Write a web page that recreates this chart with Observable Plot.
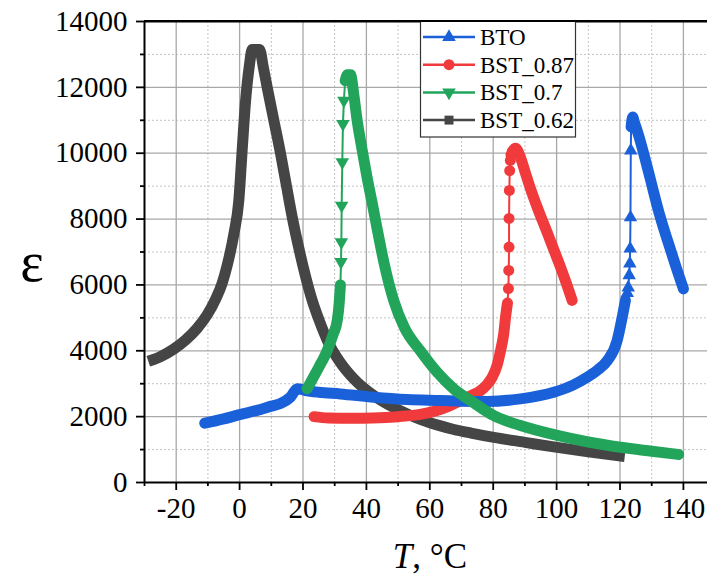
<!DOCTYPE html>
<html><head><meta charset="utf-8">
<script src="https://cdn.jsdelivr.net/npm/d3@7"></script>
<script src="https://cdn.jsdelivr.net/npm/@observablehq/plot@0.6"></script>
<style>body{margin:0;background:#fff}#chart{width:707px;height:576px;position:relative}</style>
</head><body><div id="chart"></div>
<script>
// ---------- data ----------
const seriesNames = ["BTO", "BST_0.87", "BST_0.7", "BST_0.62"];
const seriesColors = ["#1a61d9", "#f03a3b", "#22a55b", "#454545"];

// BTO
const btoLowT = [-11, -5, 0, 5.5, 10, 12.9, 16, 18.2, 20.5, 25, 31.8, 42.3, 52.9, 63.4, 70, 78.1, 88.6, 99.1, 105, 109.7, 113, 116, 119.1, 120.7, 121.7];
const btoLowE = [1800, 1930, 2060, 2190, 2320, 2400, 2590, 2850, 2800, 2740, 2690, 2590, 2520, 2490, 2470, 2460, 2540, 2740, 2950, 3200, 3420, 3700, 4310, 5020, 5530];
const btoJumpT = [122.3, 122.6, 122.9, 123.1, 123.2, 123.3, 123.4];
const btoJumpE = [5750, 5920, 6290, 6650, 7100, 8050, 10080];
const btoHighT = [123.5, 124.0, 124.5, 126.0, 128.0, 130.0, 132.0, 134.0, 136.0, 138.0, 140.0];
const btoHighE = [10800, 11100, 10950, 10500, 9800, 9050, 8300, 7650, 7050, 6450, 5880];

// BST_0.87
const b87LowT = [23.5, 28, 35, 42, 50, 57, 62, 66, 69.7, 73, 76, 78, 79.7, 81.2, 82.3, 83.3, 83.9, 84.5];
const b87LowE = [2000, 1960, 1950, 1960, 2000, 2070, 2180, 2320, 2490, 2640, 2790, 2970, 3200, 3550, 4000, 4500, 5020, 5450];
const b87JumpT = [84.8, 84.9, 85.0, 85.0, 85.1, 85.2, 85.4, 85.6];
const b87JumpE = [5890, 6440, 7150, 8020, 8870, 9470, 9780, 9950];
const b87HighT = [86.0, 87.0, 88.5, 90.0, 91.5, 94.0, 97.0, 99.0, 101.2, 103.0, 104.9];
const b87HighE = [10050, 10150, 9900, 9450, 9000, 8330, 7600, 7100, 6550, 6070, 5530];

// BST_0.7
const b70LowT = [21.3, 23, 25, 27.6, 29.5, 30.8, 31.4, 31.8];
const b70LowE = [2850, 3150, 3500, 4000, 4500, 4920, 5430, 6000];
const b70JumpT = [32.0, 32.1, 32.2, 32.4, 32.6, 32.9];
const b70JumpE = [6700, 7300, 8410, 9730, 10890, 11600];
const b70HighT = [33.3, 34.0, 35.0, 36.0, 37.0, 38.3, 40.2, 42.0, 43.4, 45.4, 48.6, 52, 57, 62.3, 67.6, 72.8, 80.2, 88.6, 100.2, 110, 120.2, 130, 138.5];
const b70HighE = [12200, 12380, 12380, 11800, 11050, 10290, 9270, 8400, 7700, 6740, 5530, 4700, 4000, 3350, 2840, 2490, 2030, 1730, 1430, 1230, 1070, 950, 850];

// BST_0.62
const b62T = [-28.8, -25, -20.8, -17, -13.4, -10.3, -7.6, -5.5, -3.9, -1.8, -0.25, 0.8, 1.9, 3.0, 4.0, 6.3, 7.5, 8.7, 10.8, 12.9, 14.8, 16.6, 18.6, 20.7, 22.9, 25.2, 27.6, 31.8, 36, 42.3, 47, 52.9, 57, 63.4, 67.6, 73, 80.2, 90, 99.1, 110, 121.5];
const b62E = [3680, 3820, 4050, 4330, 4680, 5080, 5560, 6050, 6600, 7550, 8560, 10080, 11600, 12600, 13150, 13150, 12600, 12000, 11000, 10000, 9000, 8060, 7150, 6300, 5530, 4900, 4330, 3640, 3150, 2640, 2360, 2080, 1920, 1720, 1610, 1500, 1370, 1220, 1080, 930, 790];

const xMajorTicks = [-20, 0, 20, 40, 60, 80, 100, 120, 140];
const xMinorTicks = [-30, -10, 10, 30, 50, 70, 90, 110, 130];
const yMajorTicks = [0, 2000, 4000, 6000, 8000, 10000, 12000, 14000];
const yMinorTicks = [1000, 3000, 5000, 7000, 9000, 11000, 13000];

// ---------- build ----------
const downTriangle = {
  draw(context, size) {
    const y = -Math.sqrt(size / (Math.sqrt(3) * 3));
    context.moveTo(0, -y * 2);
    context.lineTo(-Math.sqrt(3) * y, y);
    context.lineTo(Math.sqrt(3) * y, y);
    context.closePath();
  }
};
const symbols = ["triangle", "circle", downTriangle, "square"];
const d3Symbols = [d3.symbolTriangle, d3.symbolCircle, downTriangle, d3.symbolSquare];

const rows = (T, E) => T.map((t, i) => ({T: t, E: E[i]}));
const series = [
  {low: rows(btoLowT, btoLowE), jump: rows(btoJumpT, btoJumpE), high: rows(btoHighT, btoHighE)},
  {low: rows(b87LowT, b87LowE), jump: rows(b87JumpT, b87JumpE), high: rows(b87HighT, b87HighE)},
  {low: rows(b70LowT, b70LowE), jump: rows(b70JumpT, b70JumpE), high: rows(b70HighT, b70HighE)},
  {low: rows(b62T, b62E), jump: [], high: []}
];

const dataMarks = [];
for (const i of [3, 1, 0, 2]) {
  const s = series[i], c = seriesColors[i];
  if (s.jump.length) {
    const thin = [s.low[s.low.length - 1], ...s.jump, s.high[0]];
    dataMarks.push(Plot.line(thin, {x: "T", y: "E", stroke: c, strokeWidth: 2}));
    dataMarks.push(Plot.dot(s.jump, {x: "T", y: "E", fill: c, symbol: symbols[i], r: i === 1 ? 5.5 : 5}));
  }
  for (const seg of [s.low, s.high]) {
    if (!seg.length) continue;
    dataMarks.push(Plot.line(seg, {x: "T", y: "E", stroke: c, strokeWidth: 11,
      curve: "monotone-x", strokeLinejoin: "round", strokeLinecap: i === 3 ? "butt" : "round"}));
  }
}

const font = '"Liberation Serif", "Times New Roman", serif';
const chart = Plot.plot({
  width: 707, height: 576,
  marginLeft: 144, marginRight: 0, marginTop: 21, marginBottom: 94,
  x: {domain: [-30, 147.6], axis: null},
  y: {domain: [0, 14000], axis: null},
  style: {background: "white", fontFamily: font, color: "black"},
  marks: [
    Plot.gridX(xMinorTicks.filter(d => d > -30), {stroke: "#c4c4c4", strokeOpacity: 1, strokeDasharray: "2,2"}),
    Plot.gridY(yMinorTicks, {stroke: "#c4c4c4", strokeOpacity: 1, strokeDasharray: "2,2"}),
    Plot.gridX(xMajorTicks, {stroke: "#a8a8a8", strokeOpacity: 1, strokeWidth: 1.3}),
    Plot.gridY(yMajorTicks.filter(d => d > 0 && d < 14000), {stroke: "#a8a8a8", strokeOpacity: 1, strokeWidth: 1.3}),
    ...dataMarks,
    Plot.ruleX([-30], {stroke: "black", strokeWidth: 2}),
    Plot.ruleY([0], {stroke: "black", strokeWidth: 2}),
    Plot.ruleY([14000], {stroke: "black", strokeWidth: 2}),
    Plot.axisX({ticks: xMajorTicks, tickSize: 8, tickPadding: 7, tickFormat: d => String(d),
      fontSize: 29, fontFamily: font, strokeWidth: 1.8, label: null}),
    Plot.axisX({ticks: xMinorTicks, tickSize: 4, tickFormat: () => "", strokeWidth: 1.8, label: null}),
    Plot.axisY({ticks: yMajorTicks, tickSize: 8, tickPadding: 9, tickFormat: d => String(d),
      fontSize: 29, fontFamily: font, strokeWidth: 1.8, label: null}),
    Plot.axisY({ticks: yMinorTicks, tickSize: 4, tickFormat: () => "", strokeWidth: 1.8, label: null})
  ]
});
document.getElementById("chart").appendChild(chart);

// ---------- labels & legend ----------
const svg = d3.select(chart);
const xt = svg.append("text").attr("x", 430).attr("y", 568).attr("text-anchor", "middle")
  .style("font-family", font).style("font-size", "35px").attr("fill", "black");
xt.append("tspan").style("font-style", "italic").text("T");
xt.append("tspan").text(", °C");
svg.append("text").attr("x", 32).attr("y", 281).attr("text-anchor", "middle")
  .style("font-family", font).style("font-size", "56px").attr("fill", "black").text("ε");

const lg = svg.append("g");
lg.append("rect").attr("x", 420.5).attr("y", 21).attr("width", 155).attr("height", 116)
  .attr("fill", "white").attr("stroke", "#333").attr("stroke-width", 1.2);
seriesNames.forEach((name, i) => {
  const cy = 37 + i * 27.7;
  lg.append("line").attr("x1", 423).attr("x2", 475).attr("y1", cy).attr("y2", cy)
    .attr("stroke", seriesColors[i]).attr("stroke-width", 2.5);
  lg.append("path").attr("transform", `translate(449,${cy})`)
    .attr("d", d3.symbol(d3Symbols[i], i === 1 ? 95 : 80)()).attr("fill", seriesColors[i]);
  lg.append("text").attr("x", 480).attr("y", cy + 8).attr("text-anchor", "start")
    .style("font-family", font).style("font-size", "23px").attr("fill", "black").text(name);
});
svg.append("line").attr("x1", 144).attr("x2", 707).attr("y1", 21).attr("y2", 21)
  .attr("stroke", "black").attr("stroke-width", 2);
</script></body></html>
